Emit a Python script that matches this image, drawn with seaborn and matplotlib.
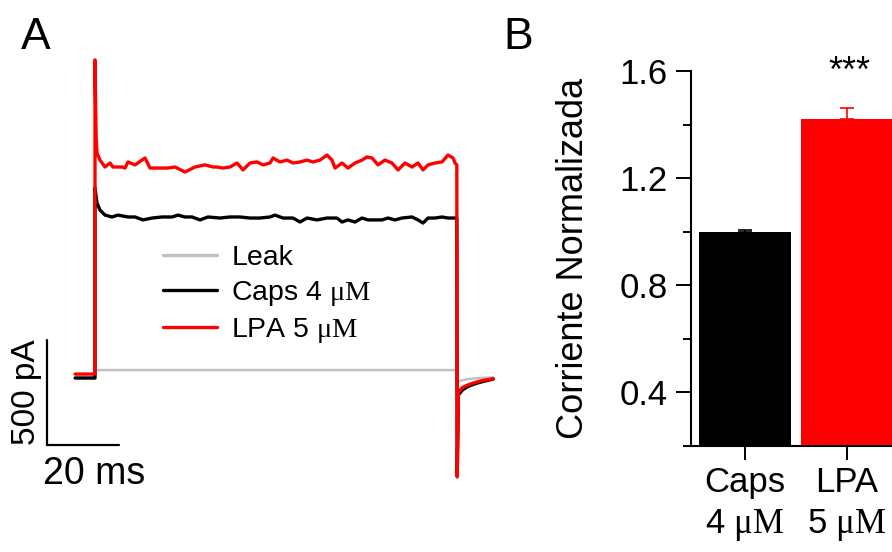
import matplotlib
matplotlib.use("Agg")
import matplotlib.pyplot as plt
import seaborn as sns
from matplotlib.lines import Line2D

# ---- panel A: current traces (time in ms from step onset, current in pA) ----
RED_T = [-5.5, -0.1, 0.0, 0.0, 0.3, 0.55, 1.38, 2.76, 4.14, 4.97, 7.46, 8.29, 9.12, 11.05,
         13.81, 15.19, 17.4, 20.17, 22.1, 24.86, 27.62, 30.39, 32.6, 33.7, 35.36, 37.29,
         39.23, 40.88, 42.82, 44.75, 46.41, 48.34, 49.17, 51.1, 53.04, 54.7, 56.63, 58.56,
         60.22, 62.15, 64.09, 65.47, 66.3, 68.23, 69.89, 71.82, 73.76, 75.14, 76.52, 78.18,
         80.11, 82.04, 83.7, 85.64, 87.57, 89.23, 90.61, 91.99, 93.92, 95.86, 97.51, 98.9,
         99.45, 99.95, 100.05, 100.4, 101.5, 103, 105, 107, 110]
RED_I = [14, 14, 14, 1510, 1150, 1067, 1033, 1000, 1019, 1000, 1000, 995, 1024, 1010,
         1043, 995, 995, 995, 1000, 976, 1000, 1010, 1000, 1000, 995, 1000,
         1019, 986, 1019, 1024, 1010, 1019, 1043, 1024, 1033, 1019, 1024, 1033,
         1024, 1033, 1057, 1033, 995, 1019, 995, 1019, 1033, 1048, 1043, 1010,
         1033, 1019, 986, 1019, 1000, 1019, 986, 1010, 1019, 1024, 1057, 1043,
         1019, 1010, -476, -71, -50, -38, -26, -17, -8]

BLACK_T = [-5.5, -0.1, 0.0, 0.0, 0.55, 1.38, 2.76, 4.7, 6.35, 9.12, 11.05, 13.26,
           15.75, 18.51, 21.27, 22.93, 24.86, 26.8, 29.01, 31.22, 34.53, 37.29, 40.06,
           42.82, 45.58, 48.34, 49.72, 51.93, 54.7, 56.63, 58.56, 61.33, 64.09, 66.85,
           68.23, 69.89, 71.82, 73.76, 75.41, 77.35, 79.28, 80.94, 82.87, 84.81, 87.57,
           89.23, 90.61, 91.99, 93.92, 95.86, 97.51, 98.9, 99.95, 100.05, 100.4, 101.5,
           103, 105, 107, 110]
BLACK_I = [-5, -5, -5, 900, 829, 795, 771, 762, 771, 762, 762, 748,
           757, 762, 762, 771, 762, 762, 748, 762, 757, 762, 762,
           757, 757, 762, 771, 757, 757, 738, 757, 748, 757, 757,
           738, 748, 738, 757, 748, 748, 748, 757, 748, 757, 762,
           748, 733, 757, 757, 762, 757, 757, 757, -470, -85, -62,
           -45, -32, -22, -10]

LEAK_T = [-5.5, -0.1, 0.0, 0.3, 50, 99.95, 100.05, 100.3, 103, 106, 110]
LEAK_I = [0, 0, 30, 33, 33, 33, -60, -20, -10, -5, -2]

TRACE_LABELS = ["Leak", r"Caps 4 $\mathrm{\mu M}$", r"LPA 5 $\mathrm{\mu M}$"]
TRACE_COLORS = ["#c0c0c0", "black", "#ff0000"]

SCALE_PA = 500
SCALE_MS = 20

# ---- panel B: normalized current ----
BAR_LABELS = ["Caps\n4 $\\mathrm{\\mu M}$", "LPA\n5 $\\mathrm{\\mu M}$"]
BAR_VALUES = [1.0, 1.42]
BAR_SEM = [0.006, 0.042]
BAR_COLORS = ["black", "#ff0000"]
Y_MAJOR = [0.4, 0.8, 1.2, 1.6]
Y_MINOR = [0.2, 0.6, 1.0, 1.4]

W, H = 892, 552


def fx(px):
    return px / W


def fy(py):
    return 1 - py / H


def setup_style():
    sns.set_theme(style="ticks")
    plt.rcParams["font.family"] = ["Liberation Sans", "DejaVu Sans"]
    plt.rcParams["mathtext.fontset"] = "custom"
    plt.rcParams["mathtext.rm"] = "Liberation Serif"
    plt.rcParams["axes.unicode_minus"] = False
    for key in ["text.color", "axes.labelcolor", "xtick.color", "ytick.color", "axes.edgecolor"]:
        plt.rcParams[key] = "black"


def plot_traces(fig):
    left, right, top, bottom = 20, 500, 40, 490
    t0_px, i0_px = 95, 377
    px_ms, px_pa = 3.62, 0.21
    ax = fig.add_axes([fx(left), fy(bottom), (right - left) / W, (bottom - top) / H])
    for t, i, c, lw in [(LEAK_T, LEAK_I, TRACE_COLORS[0], 1.8),
                        (BLACK_T, BLACK_I, TRACE_COLORS[1], 2.4),
                        (RED_T, RED_I, TRACE_COLORS[2], 2.4)]:
        sns.lineplot(x=t, y=i, estimator=None, sort=False, color=c, linewidth=lw, ax=ax)
    ax.set_xlim((left - t0_px) / px_ms, (right - t0_px) / px_ms)
    ax.set_ylim((i0_px - bottom) / px_pa, (i0_px - top) / px_pa)
    ax.set_axis_off()

    # scale bar
    sb_t = (47 - t0_px) / px_ms
    sb_i = (i0_px - 445) / px_pa
    ax.plot([sb_t, sb_t, sb_t + SCALE_MS], [sb_i + SCALE_PA, sb_i, sb_i],
            color="black", lw=1.6, solid_joinstyle="miter", clip_on=False)
    fig.text(fx(27), fy(392), f"{SCALE_PA} pA", rotation=90, ha="center", va="center", fontsize=24)
    fig.text(fx(43), fy(474), f"{SCALE_MS} ms", ha="left", va="center", fontsize=27)

    handles = [Line2D([], [], color=c, lw=2.4) for c in TRACE_COLORS]
    fig.legend(handles, TRACE_LABELS, loc="upper left", bbox_to_anchor=(fx(163), fy(245)),
               frameon=False, fontsize=20.5, borderpad=0, borderaxespad=0,
               handlelength=1.9, handletextpad=0.5, labelspacing=0.28)
    fig.text(fx(21), fy(17), "A", ha="left", va="top", fontsize=32)


def plot_bars(fig):
    left, right, top, bottom = 691, 908, 71, 445.5
    ax = fig.add_axes([fx(left), fy(bottom), (right - left) / W, (bottom - top) / H])
    sns.barplot(x=[0, 1], y=BAR_VALUES, hue=[0, 1], palette=BAR_COLORS, legend=False,
                width=0.91, linewidth=0, saturation=1, ax=ax)
    for i, (v, e, c) in enumerate(zip(BAR_VALUES, BAR_SEM, BAR_COLORS)):
        ax.errorbar(i, v, yerr=[[0], [e]], color=c, capsize=5, elinewidth=1.2, capthick=1.2)
    ax.set_xlim(-0.53, 1.6)
    ax.set_ylim(0.2, 1.6)
    ax.set_yticks(Y_MAJOR)
    ax.set_yticklabels([f"{v:.1f}" for v in Y_MAJOR])
    ax.set_yticks(Y_MINOR, minor=True)
    ax.set_xticks([0, 1])
    ax.set_xticklabels(BAR_LABELS, fontsize=25, linespacing=1.3)
    ax.tick_params(axis="y", which="major", length=11, width=1.4, pad=6, labelsize=25)
    ax.tick_params(axis="y", which="minor", length=6, width=1.4)
    ax.tick_params(axis="x", length=10, width=1.4, pad=5)
    sns.despine(ax=ax, top=True, right=True)
    for s in ["left", "bottom"]:
        ax.spines[s].set_linewidth(1.5)
    ax.set_xlabel("")
    ax.set_ylabel("Corriente Normalizada", fontsize=26, labelpad=20)
    fig.text(fx(849), fy(72), "***", ha="center", va="center", fontsize=26)
    fig.text(fx(503), fy(17), "B", ha="left", va="top", fontsize=32)


def main():
    setup_style()
    fig = plt.figure(figsize=(W / 100, H / 100), dpi=100)
    plot_traces(fig)
    plot_bars(fig)
    fig.savefig("out.png", dpi=100)
    plt.close(fig)


if __name__ == "__main__":
    main()
